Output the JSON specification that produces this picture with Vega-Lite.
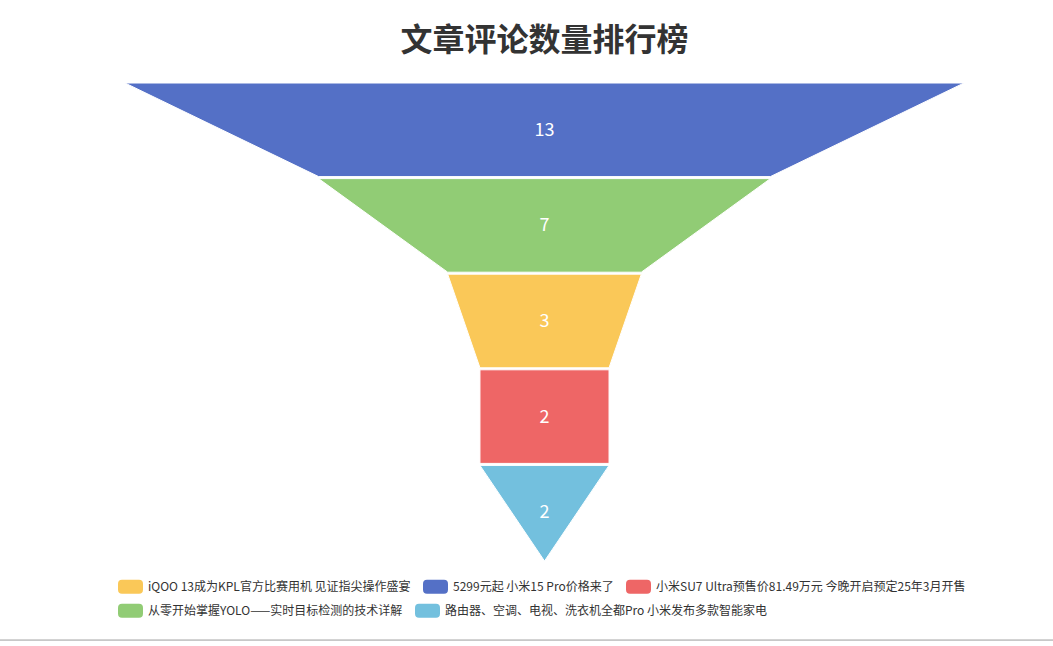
{
  "$schema": "https://vega.github.io/schema/vega-lite/v6.json",
  "width": 1053,
  "height": 576,
  "autosize": {"type": "none"},
  "padding": {"left": 0, "top": 70, "right": 0, "bottom": 0},
  "background": "white",
  "config": {"view": {"stroke": null}, "font": "Noto Sans CJK SC"},
  "title": {
    "text": "文章评论数量排行榜",
    "anchor": "middle",
    "dx": 18,
    "offset": 12,
    "fontSize": 32,
    "fontWeight": "bold",
    "color": "#333333",
    "font": "Noto Sans CJK SC"
  },
  "datasets": {
    "funnel": [
      {"name": "5299元起 小米15 Pro价格来了", "value": 13, "boundary": 0, "edge": "top", "w": 13},
      {"name": "5299元起 小米15 Pro价格来了", "value": 13, "boundary": 1, "edge": "bottom", "w": 7},
      {"name": "从零开始掌握YOLO——实时目标检测的技术详解", "value": 7, "boundary": 1, "edge": "top", "w": 7},
      {"name": "从零开始掌握YOLO——实时目标检测的技术详解", "value": 7, "boundary": 2, "edge": "bottom", "w": 3},
      {"name": "iQOO 13成为KPL官方比赛用机 见证指尖操作盛宴", "value": 3, "boundary": 2, "edge": "top", "w": 3},
      {"name": "iQOO 13成为KPL官方比赛用机 见证指尖操作盛宴", "value": 3, "boundary": 3, "edge": "bottom", "w": 2},
      {"name": "小米SU7 Ultra预售价81.49万元 今晚开启预定25年3月开售", "value": 2, "boundary": 3, "edge": "top", "w": 2},
      {"name": "小米SU7 Ultra预售价81.49万元 今晚开启预定25年3月开售", "value": 2, "boundary": 4, "edge": "bottom", "w": 2},
      {"name": "路由器、空调、电视、洗衣机全都Pro 小米发布多款智能家电", "value": 2, "boundary": 4, "edge": "top", "w": 2},
      {"name": "路由器、空调、电视、洗衣机全都Pro 小米发布多款智能家电", "value": 2, "boundary": 5, "edge": "bottom", "w": 0}
    ]
  },
  "data": {"name": "funnel"},
  "resolve": {"scale": {"color": "independent"}, "legend": {"color": "independent"}},
  "layer": [
    {
      "transform": [
        {"calculate": "-datum.w / 2", "as": "lo"},
        {"calculate": "datum.w / 2", "as": "hi"},
        {"calculate": "datum.edge == 'bottom' && datum.boundary < 5 ? datum.boundary - 0.021 : datum.boundary", "as": "ypos"}
      ],
      "mark": {"type": "area", "orient": "horizontal", "stroke": "white", "strokeWidth": 1, "fillOpacity": 1},
      "encoding": {
        "y": {"field": "ypos", "type": "quantitative", "axis": null, "scale": {"domain": [0, 5], "range": [13, 491], "zero": false, "nice": false}},
        "x": {"field": "lo", "type": "quantitative", "axis": null, "scale": {"domain": [-6.5, 6.5], "range": [125, 964], "nice": false}},
        "x2": {"field": "hi"},
        "color": {
          "field": "name",
          "type": "nominal",
          "scale": {
            "domain": [
              "iQOO 13成为KPL官方比赛用机 见证指尖操作盛宴",
              "5299元起 小米15 Pro价格来了",
              "小米SU7 Ultra预售价81.49万元 今晚开启预定25年3月开售",
              "从零开始掌握YOLO——实时目标检测的技术详解",
              "路由器、空调、电视、洗衣机全都Pro 小米发布多款智能家电"
            ],
            "range": ["#fac858", "#5470c6", "#ee6666", "#91cc75", "#73c0de"]
          },
          "legend": {
            "title": null,
            "orient": "none",
            "legendX": 118,
            "legendY": 504,
            "direction": "horizontal",
            "values": [
              "iQOO 13成为KPL官方比赛用机 见证指尖操作盛宴",
              "5299元起 小米15 Pro价格来了",
              "小米SU7 Ultra预售价81.49万元 今晚开启预定25年3月开售"
            ],
            "columnPadding": 12,
            "symbolType": "M-0.68,-0.56 L0.68,-0.56 Q1,-0.56 1,-0.24 L1,0.24 Q1,0.56 0.68,0.56 L-0.68,0.56 Q-1,0.56 -1,0.24 L-1,-0.24 Q-1,-0.56 -0.68,-0.56 Z",
            "symbolSize": 625,
            "symbolStrokeWidth": 0,
            "symbolOpacity": 1,
            "labelFontSize": 12,
            "labelColor": "#333333",
            "labelFont": "Noto Sans CJK SC",
            "labelOffset": 5,
            "labelLimit": 0
          }
        }
      }
    },
    {
      "transform": [
        {"calculate": "-datum.w / 2", "as": "lo"},
        {"calculate": "datum.w / 2", "as": "hi"},
        {"calculate": "datum.edge == 'bottom' && datum.boundary < 5 ? datum.boundary - 0.021 : datum.boundary", "as": "ypos"}
      ],
      "mark": {"type": "area", "orient": "horizontal", "stroke": "white", "strokeWidth": 1, "fillOpacity": 1},
      "encoding": {
        "y": {"field": "ypos", "type": "quantitative"},
        "x": {"field": "lo", "type": "quantitative"},
        "x2": {"field": "hi"},
        "color": {
          "field": "name",
          "type": "nominal",
          "scale": {
            "domain": [
              "iQOO 13成为KPL官方比赛用机 见证指尖操作盛宴",
              "5299元起 小米15 Pro价格来了",
              "小米SU7 Ultra预售价81.49万元 今晚开启预定25年3月开售",
              "从零开始掌握YOLO——实时目标检测的技术详解",
              "路由器、空调、电视、洗衣机全都Pro 小米发布多款智能家电"
            ],
            "range": ["#fac858", "#5470c6", "#ee6666", "#91cc75", "#73c0de"]
          },
          "legend": {
            "title": null,
            "orient": "none",
            "legendX": 118,
            "legendY": 528,
            "direction": "horizontal",
            "values": [
              "从零开始掌握YOLO——实时目标检测的技术详解",
              "路由器、空调、电视、洗衣机全都Pro 小米发布多款智能家电"
            ],
            "columnPadding": 12,
            "symbolType": "M-0.68,-0.56 L0.68,-0.56 Q1,-0.56 1,-0.24 L1,0.24 Q1,0.56 0.68,0.56 L-0.68,0.56 Q-1,0.56 -1,0.24 L-1,-0.24 Q-1,-0.56 -0.68,-0.56 Z",
            "symbolSize": 625,
            "symbolStrokeWidth": 0,
            "symbolOpacity": 1,
            "labelFontSize": 12,
            "labelColor": "#333333",
            "labelFont": "Noto Sans CJK SC",
            "labelOffset": 5,
            "labelLimit": 0
          }
        }
      }
    },
    {
      "transform": [
        {"aggregate": [{"op": "mean", "field": "boundary", "as": "mid"}], "groupby": ["name", "value"]}
      ],
      "mark": {"type": "text", "color": "white", "fontSize": 18, "font": "Noto Sans CJK SC", "baseline": "middle", "align": "center"},
      "encoding": {
        "y": {"field": "mid", "type": "quantitative"},
        "x": {"datum": 0},
        "text": {"field": "value", "type": "quantitative"}
      }
    },
    {
      "mark": {"type": "rule", "color": "#c8c8c8", "strokeWidth": 1},
      "encoding": {
        "y": {"datum": 5.83}
      }
    }
  ]
}
